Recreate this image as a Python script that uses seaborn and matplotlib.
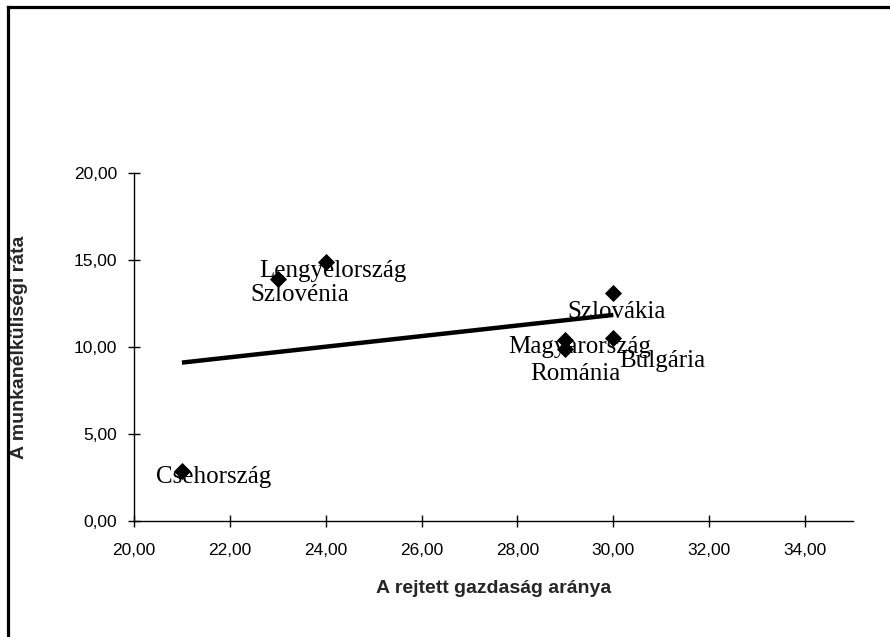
import matplotlib
matplotlib.use("Agg")
import matplotlib.pyplot as plt
import seaborn as sns
import pandas as pd
from matplotlib.ticker import FuncFormatter, MultipleLocator
from matplotlib.lines import Line2D

countries = ["Csehország", "Szlovénia", "Lengyelország", "Magyarország", "Románia", "Szlovákia", "Bulgária"]
rejtett = [21.0, 23.0, 24.0, 29.0, 29.0, 30.0, 30.0]
munkanelkuli = [2.9, 13.9, 14.9, 10.4, 9.9, 13.1, 10.5]

# label anchor positions (data coords, layout only)
label_x = [21.66, 23.45, 24.14, 29.30, 29.20, 30.07, 31.02]
label_y = [2.18, 12.64, 14.02, 9.66, 8.10, 11.67, 8.85]

df = pd.DataFrame({"x": rejtett, "y": munkanelkuli, "orszag": countries})

sns.set_style("white")
plt.rcParams["font.family"] = ["Liberation Sans", "DejaVu Sans"]

fig = plt.figure(figsize=(8.9, 6.37), dpi=100)
ax = fig.add_axes([134 / 890, 1 - 521 / 637, (853 - 134) / 890, (521 - 173) / 637])

sns.regplot(data=df, x="x", y="y", scatter=False, ci=None, ax=ax,
            line_kws=dict(color="black", lw=3.2, solid_capstyle="butt"))
sns.scatterplot(data=df, x="x", y="y", marker="D", s=65, color="black",
                edgecolor="black", ax=ax, zorder=3)

for name, lx, ly in zip(countries, label_x, label_y):
    ax.text(lx, ly, name, ha="center", va="baseline", fontsize=18,
            family=["Liberation Serif", "DejaVu Serif"], color="black", zorder=4)

ax.set_xlim(20, 35)
ax.set_ylim(0, 20)
ax.xaxis.set_major_locator(MultipleLocator(2))
ax.yaxis.set_major_locator(MultipleLocator(5))
fmt = FuncFormatter(lambda v, p: f"{v:.2f}".replace(".", ","))
ax.xaxis.set_major_formatter(fmt)
ax.yaxis.set_major_formatter(fmt)

for s in ["top", "right"]:
    ax.spines[s].set_visible(False)
for s in ["left", "bottom"]:
    ax.spines[s].set_color("black")
    ax.spines[s].set_linewidth(1.0)

ax.tick_params(axis="both", direction="inout", length=8, width=1, colors="black",
               labelsize=12.5, bottom=True, left=True)
ax.tick_params(axis="x", pad=12)
ax.tick_params(axis="y", pad=8)
ax.set_xlabel("A rejtett gazdaság aránya", fontsize=14, fontweight="bold")
ax.set_ylabel("A munkanélküliségi ráta", fontsize=14, fontweight="bold")
ax.xaxis.set_label_coords(0.5, -(580 - 521) / 348)
ax.yaxis.set_label_coords((28 - 134) / 719, 0.5)

# outer frame (top and left visible)
fig.add_artist(Line2D([7.5 / 890, 7.5 / 890], [0, 1 - 6.5 / 637], transform=fig.transFigure,
                      color="black", lw=2.3, solid_capstyle="projecting"))
fig.add_artist(Line2D([7.5 / 890, 1], [1 - 6.5 / 637, 1 - 6.5 / 637], transform=fig.transFigure,
                      color="black", lw=2.3, solid_capstyle="projecting"))

fig.savefig("out.png", dpi=100)
